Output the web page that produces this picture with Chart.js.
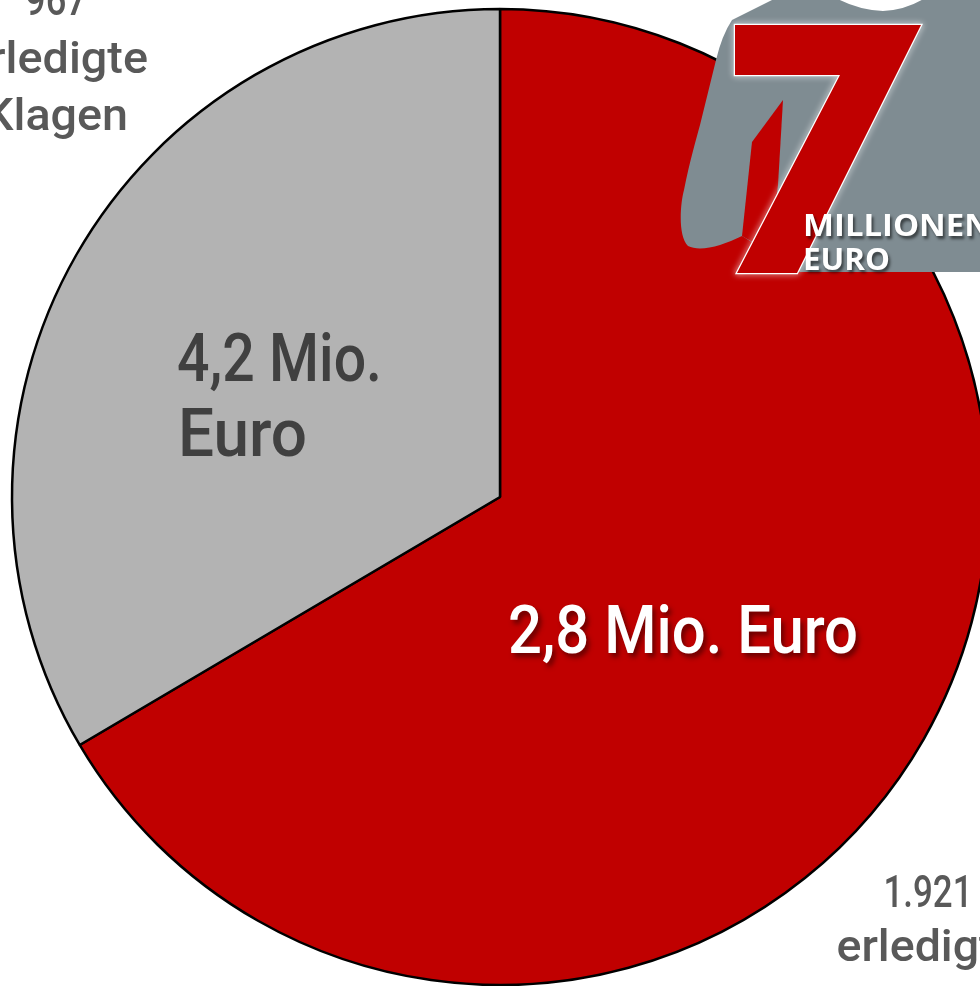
<!DOCTYPE html>
<html>
<head>
<meta charset="utf-8">
<script src="https://cdn.jsdelivr.net/npm/chart.js@4"></script>
<style>
html,body{margin:0;padding:0;background:#fff;overflow:hidden;}
canvas{display:block;}
</style>
</head>
<body>
<canvas id="c" width="980" height="986"></canvas>
<script>
const categories = ['1.921 erledigte Klagen', '967 erledigte Klagen'];
const values = [1921, 967];
const amounts = ['2,8 Mio. Euro', '4,2 Mio. Euro'];
const colors = ['#c00000', '#b3b3b3'];

function fitText(ctx, text, x, y, size, weight, family, width, align, scaleFallback) {
  ctx.save();
  ctx.font = weight + ' ' + size + 'px ' + family;
  const w = ctx.measureText(text).width;
  const s = width ? width / w : (scaleFallback || 1);
  ctx.translate(x, y);
  ctx.scale(s, 1);
  ctx.textBaseline = 'alphabetic';
  ctx.textAlign = align || 'left';
  ctx.fillText(text, 0, 0);
  ctx.restore();
}

const decor = {
  id: 'decor',
  afterDraw(chart) {
    const ctx = chart.ctx;
    const F = 'Roboto, "DejaVu Sans", sans-serif';
    // inner labels
    ctx.save();
    ctx.fillStyle = '#404040';
    const g = amounts[1].split(' ');
    fitText(ctx, g[0] + ' ' + g[1], 177, 381, 67, '500', F, 205);
    fitText(ctx, g[2], 178, 456, 67, '500', F, 129);
    ctx.restore();

    ctx.save();
    ctx.fillStyle = '#ffffff';
    ctx.shadowColor = 'rgba(90,0,0,0.85)';
    ctx.shadowOffsetX = 3; ctx.shadowOffsetY = 4; ctx.shadowBlur = 5;
    fitText(ctx, amounts[0], 508, 653, 67, '500', F, 350);
    ctx.restore();

    // outer labels
    ctx.save();
    ctx.fillStyle = '#595959';
    const a = categories[1].split(' ');
    fitText(ctx, a[0], 56, 15, 45, '500', F, 62, 'center');
    fitText(ctx, a[1], 56, 73, 45, '500', F, 184, 'center');
    fitText(ctx, a[2], 56, 130, 45, '500', F, 144, 'center');
    const b = categories[0].split(' ');
    fitText(ctx, b[0], 928, 907, 45, '500', F, 89, 'center');
    fitText(ctx, b[1], 928, 961, 45, '500', F, 183, 'center');
    ctx.restore();

    // logo
    ctx.save();
    ctx.fillStyle = '#7f8c92';
    ctx.beginPath();
    ctx.moveTo(732, 20);
    ctx.lineTo(776, -2);
    ctx.lineTo(836, -2);
    ctx.quadraticCurveTo(858, 10, 883, 11);
    ctx.quadraticCurveTo(906, 10, 925, -2);
    ctx.lineTo(985, -2);
    ctx.lineTo(985, 272);
    ctx.lineTo(800, 272);
    ctx.lineTo(742, 236);
    ctx.bezierCurveTo(722, 246, 700, 252, 688, 246);
    ctx.bezierCurveTo(678, 236, 680, 205, 684, 190);
    ctx.bezierCurveTo(690, 160, 696, 140, 700, 125);
    ctx.lineTo(716, 60);
    ctx.quadraticCurveTo(722, 35, 732, 20);
    ctx.closePath();
    ctx.fill();

    ctx.fillStyle = '#c00000';
    ctx.beginPath();
    ctx.moveTo(783, 100);
    ctx.lineTo(752, 142);
    ctx.lineTo(742, 236);
    ctx.lineTo(770, 252);
    ctx.lineTo(778, 185);
    ctx.closePath();
    ctx.fill();

    // the 7
    ctx.beginPath();
    ctx.moveTo(735, 25);
    ctx.lineTo(921, 25);
    ctx.lineTo(797, 273);
    ctx.lineTo(737, 273);
    ctx.lineTo(840, 75);
    ctx.lineTo(735, 75);
    ctx.closePath();
    ctx.shadowColor = 'rgba(255,255,255,1)';
    ctx.shadowBlur = 6;
    ctx.strokeStyle = '#ffffff';
    ctx.lineWidth = 2.5;
    ctx.lineJoin = 'miter';
    ctx.stroke();
    ctx.shadowBlur = 0;
    ctx.fillStyle = '#c00000';
    ctx.fill();
    ctx.restore();

    ctx.save();
    ctx.fillStyle = '#ffffff';
    ctx.shadowColor = 'rgba(0,0,0,0.55)';
    ctx.shadowOffsetX = 2; ctx.shadowOffsetY = 3; ctx.shadowBlur = 3;
    const LF = '"Open Sans", Lato, sans-serif';
    fitText(ctx, 'MILLIONEN', 803, 236, 30, 'bold', LF, 188);
    fitText(ctx, 'EURO', 803, 270, 30, 'bold', LF, 87);
    ctx.restore();
  }
};

new Chart(document.getElementById('c'), {
  type: 'pie',
  data: {
    labels: categories,
    datasets: [{
      data: values,
      backgroundColor: colors,
      borderColor: '#000000',
      borderWidth: 2.5
    }]
  },
  options: {
    responsive: false,
    animation: false,
    events: [],
    radius: 488,
    layout: { padding: { left: 20, right: 0, top: 8, bottom: 0 } },
    plugins: { legend: { display: false }, tooltip: { enabled: false } }
  },
  plugins: [decor]
});
</script>
</body>
</html>
